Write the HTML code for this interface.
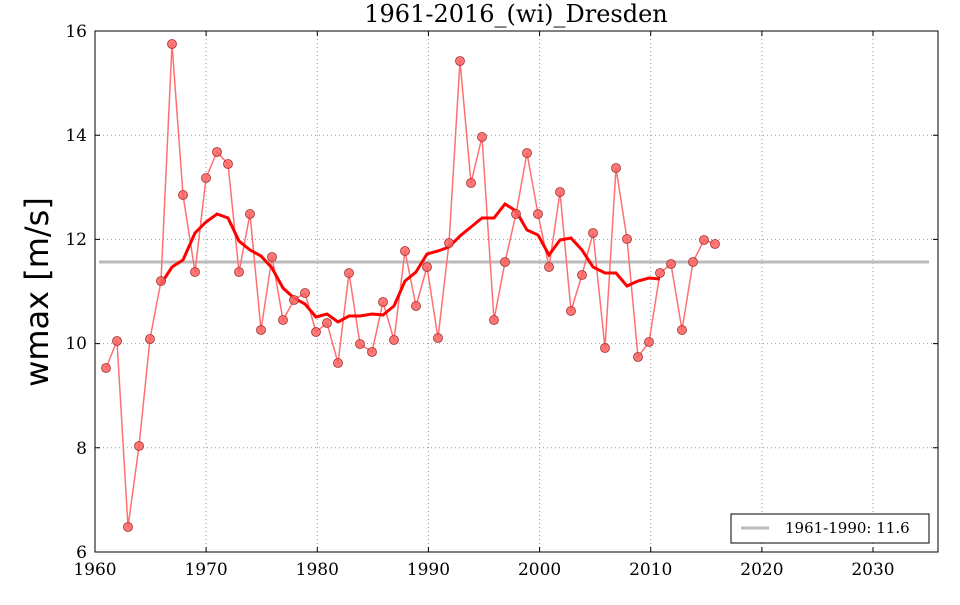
<!DOCTYPE html>
<html><head><meta charset="utf-8"><style>body{margin:0;background:#fff}</style></head><body>
<svg width="960" height="600" xmlns="http://www.w3.org/2000/svg">
<rect width="960" height="600" fill="#fff"/>
<g stroke="#999" stroke-dasharray="1,3" stroke-width="1">
<line x1="206.1" y1="31" x2="206.1" y2="552"/><line x1="317.3" y1="31" x2="317.3" y2="552"/><line x1="428.4" y1="31" x2="428.4" y2="552"/><line x1="539.6" y1="31" x2="539.6" y2="552"/><line x1="650.7" y1="31" x2="650.7" y2="552"/><line x1="761.9" y1="31" x2="761.9" y2="552"/><line x1="873" y1="31" x2="873" y2="552"/>
<line x1="95" y1="135.2" x2="938" y2="135.2"/><line x1="95" y1="239.4" x2="938" y2="239.4"/><line x1="95" y1="343.6" x2="938" y2="343.6"/><line x1="95" y1="447.8" x2="938" y2="447.8"/>
</g>
<line x1="99" y1="262" x2="929" y2="262" stroke="#bbb" stroke-width="3"/>
<polyline fill="none" stroke="#ff7070" stroke-width="1.5" points="106,368 117,341 128,527 139,446 150,339 161,281 172,44 183,195 195,272 206,178 217,152 228,164 239,272 250,214 261,330 272,257 283,320 294,300 305,293 316,332 327,323 338,363 349,273 360,344 372,352 383,302 394,340 405,251 416,306 427,267 438,338 449,243 460,61 471,183 482,137 494,320 505,262 516,214 527,153 538,214 549,267 560,192 571,311 582,275 593,233 605,348 616,168 627,239 638,357 649,342 660,273 671,264 682,330 693,262 704,240 715,244"/>
<polyline fill="none" stroke="#f00" stroke-width="3" points="161,284 172,267 183,260 195,233 206,222 217,214 228,218 239,241 250,250 261,256 272,268 283,288 294,298 305,304 316,317 327,314 338,322 349,316 360,316 372,314 383,315 394,306 405,281 416,272 427,254 438,251 449,247 460,236 471,227 482,218 494,218 505,204 516,211 527,230 538,235 549,255 560,240 571,238 582,250 593,267 605,273 616,273 627,286 638,281 649,278 660,279"/>
<g fill="#ff6060" fill-opacity="0.85" stroke="#a03030" stroke-width="0.8">
<circle cx="106" cy="368" r="4.5"/><circle cx="117" cy="341" r="4.5"/><circle cx="128" cy="527" r="4.5"/><circle cx="139" cy="446" r="4.5"/><circle cx="150" cy="339" r="4.5"/><circle cx="161" cy="281" r="4.5"/><circle cx="172" cy="44" r="4.5"/><circle cx="183" cy="195" r="4.5"/><circle cx="195" cy="272" r="4.5"/><circle cx="206" cy="178" r="4.5"/><circle cx="217" cy="152" r="4.5"/><circle cx="228" cy="164" r="4.5"/><circle cx="239" cy="272" r="4.5"/><circle cx="250" cy="214" r="4.5"/><circle cx="261" cy="330" r="4.5"/><circle cx="272" cy="257" r="4.5"/><circle cx="283" cy="320" r="4.5"/><circle cx="294" cy="300" r="4.5"/><circle cx="305" cy="293" r="4.5"/><circle cx="316" cy="332" r="4.5"/><circle cx="327" cy="323" r="4.5"/><circle cx="338" cy="363" r="4.5"/><circle cx="349" cy="273" r="4.5"/><circle cx="360" cy="344" r="4.5"/><circle cx="372" cy="352" r="4.5"/><circle cx="383" cy="302" r="4.5"/><circle cx="394" cy="340" r="4.5"/><circle cx="405" cy="251" r="4.5"/><circle cx="416" cy="306" r="4.5"/><circle cx="427" cy="267" r="4.5"/><circle cx="438" cy="338" r="4.5"/><circle cx="449" cy="243" r="4.5"/><circle cx="460" cy="61" r="4.5"/><circle cx="471" cy="183" r="4.5"/><circle cx="482" cy="137" r="4.5"/><circle cx="494" cy="320" r="4.5"/><circle cx="505" cy="262" r="4.5"/><circle cx="516" cy="214" r="4.5"/><circle cx="527" cy="153" r="4.5"/><circle cx="538" cy="214" r="4.5"/><circle cx="549" cy="267" r="4.5"/><circle cx="560" cy="192" r="4.5"/><circle cx="571" cy="311" r="4.5"/><circle cx="582" cy="275" r="4.5"/><circle cx="593" cy="233" r="4.5"/><circle cx="605" cy="348" r="4.5"/><circle cx="616" cy="168" r="4.5"/><circle cx="627" cy="239" r="4.5"/><circle cx="638" cy="357" r="4.5"/><circle cx="649" cy="342" r="4.5"/><circle cx="660" cy="273" r="4.5"/><circle cx="671" cy="264" r="4.5"/><circle cx="682" cy="330" r="4.5"/><circle cx="693" cy="262" r="4.5"/><circle cx="704" cy="240" r="4.5"/><circle cx="715" cy="244" r="4.5"/>
</g>
<rect x="95" y="31" width="843" height="521" fill="none" stroke="#000" stroke-width="1"/>
<g stroke="#000" stroke-width="1">
<path d="M206.1 552v-5M317.3 552v-5M428.4 552v-5M539.6 552v-5M650.7 552v-5M761.9 552v-5M873 552v-5M206.1 31v5M317.3 31v5M428.4 31v5M539.6 31v5M650.7 31v5M761.9 31v5M873 31v5"/>
<path d="M95 135.2h5M95 239.4h5M95 343.6h5M95 447.8h5M938 135.2h-5M938 239.4h-5M938 343.6h-5M938 447.8h-5"/>
</g>
<g font-family="'DejaVu Serif','Liberation Serif',serif" font-size="17" fill="#000" text-anchor="middle">
<text x="95" y="575">1960</text><text x="206.1" y="575">1970</text><text x="317.3" y="575">1980</text><text x="428.4" y="575">1990</text><text x="539.6" y="575">2000</text><text x="650.7" y="575">2010</text><text x="761.9" y="575">2020</text><text x="873" y="575">2030</text>
</g>
<g font-family="'DejaVu Serif','Liberation Serif',serif" font-size="17" fill="#000" text-anchor="end">
<text x="87" y="37">16</text><text x="87" y="141">14</text><text x="87" y="245">12</text><text x="87" y="349">10</text><text x="87" y="454">8</text><text x="87" y="558">6</text>
</g>
<text x="516" y="22" text-anchor="middle" font-family="'DejaVu Serif','Liberation Serif',serif" font-size="24">1961-2016_(wi)_Dresden</text>
<text transform="translate(48,292) rotate(-90)" text-anchor="middle" font-family="'DejaVu Sans','Liberation Sans',sans-serif" font-size="32">wmax [m/s]</text>
<rect x="731" y="514" width="198" height="29" fill="#fff" stroke="#000" stroke-width="1"/>
<line x1="741" y1="528" x2="769" y2="528" stroke="#bbb" stroke-width="3"/>
<text x="785" y="533" font-family="'DejaVu Serif','Liberation Serif',serif" font-size="15">1961-1990: 11.6</text>
</svg>
</body></html>
